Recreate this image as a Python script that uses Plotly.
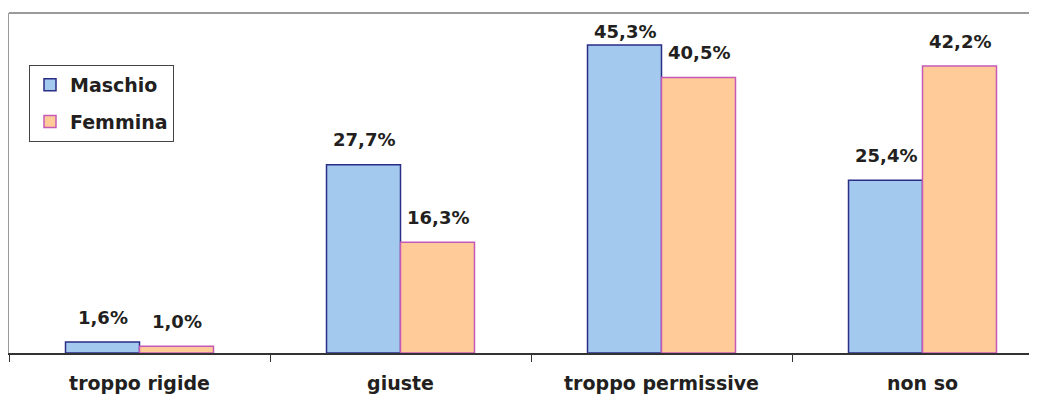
import plotly.graph_objects as go

categories = ["troppo rigide", "giuste", "troppo permissive", "non so"]
maschio = [1.6, 27.7, 45.3, 25.4]
femmina = [1.0, 16.3, 40.5, 42.2]
series_names = ["Maschio", "Femmina"]

FONT = "DejaVu Sans, Liberation Sans, Arial, sans-serif"
# page body has an 8px margin, so the figure is sized to the remaining area
W, H = 1029, 388
L, T, B = 1, 5, 43

def fmt(v):
    return f"{v:.1f}".replace(".", ",") + "%"

fig = go.Figure()
fig.add_trace(go.Bar(
    x=categories, y=maschio, name="<b>" + series_names[0] + "</b>", legendgroup="m",
    marker=dict(color="#A3CAEE", line=dict(color="#2B2D86", width=1.5)),
))
fig.add_trace(go.Bar(
    x=categories, y=femmina, name="<b>" + series_names[1] + "</b>", legendgroup="f",
    marker=dict(color="#FFCC99", line=dict(color="#C659B8", width=1.5)),
))

# data labels
for i, c in enumerate(categories):
    for j, vals in enumerate([maschio, femmina]):
        v = vals[i]
        ys = 13 if v > 44 else 25
        fig.add_annotation(
            x=c, y=v, text="<b>" + fmt(v) + "</b>", showarrow=False,
            xshift=-37 if j == 0 else 37, yshift=ys,
            font=dict(family=FONT, size=18, color="#231F20"),
        )

# top frame line
fig.add_shape(type="line", xref="paper", yref="paper", x0=0, x1=1.02, y0=1, y1=1,
              line=dict(color="#9A9A9A", width=2))

plot_w = W - L
cat_w = 261
xmax = -0.5 + plot_w / cat_w

fig.update_layout(
    width=W, height=H,
    margin=dict(l=L, r=0, t=T, b=B, pad=0, autoexpand=False),
    paper_bgcolor="white", plot_bgcolor="white",
    barmode="group", bargap=0.433, bargroupgap=0,
    font=dict(family=FONT, color="#231F20"),
    showlegend=True,
    legend=dict(
        xref="container", yref="container",
        x=21 / W, y=1 - 57 / H, xanchor="left", yanchor="top",
        bordercolor="#444444", borderwidth=1, bgcolor="white",
        font=dict(family=FONT, size=19, color="#231F20"),
        traceorder="grouped", tracegroupgap=9, itemwidth=30,
    ),
    xaxis=dict(
        type="category", range=[-0.5, xmax],
        showline=True, linecolor="#333333", linewidth=1.5,
        ticks="outside", tickson="boundaries", ticklen=7, tickcolor="#333333",
        tickfont=dict(family=FONT, size=19, color="#231F20"),
        tickprefix="<b>", ticksuffix="</b>", ticklabelstandoff=12,
        showgrid=False, zeroline=False,
    ),
    yaxis=dict(
        range=[0, 50], showticklabels=False, showgrid=False, zeroline=False,
        showline=True, linecolor="#9A9A9A", linewidth=2, ticks="",
    ),
)

fig.write_html("out.html")
